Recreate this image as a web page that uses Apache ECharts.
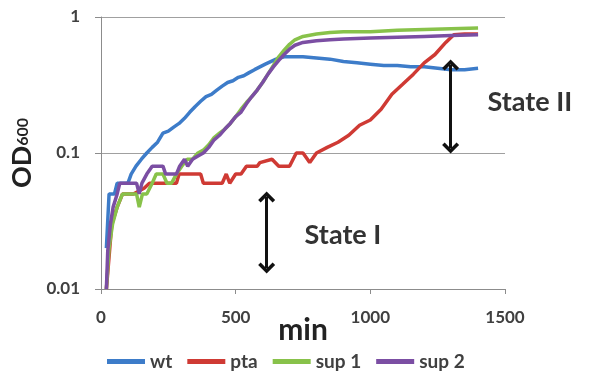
<!DOCTYPE html>
<html>
<head>
<meta charset="utf-8">
<script src="https://cdn.jsdelivr.net/npm/echarts@6/dist/echarts.min.js"></script>
<style>
  html, body { margin: 0; padding: 0; background: #fff; }
  #chart { width: 592px; height: 371px; }
</style>
</head>
<body>
<div id="chart"></div>
<script>
// growth curves, OD600 vs minutes
const wtMin = [20,30,50,60,100,112,130,150,170,190,210,230,250,270,290,310,330,350,370,390,410,430,450,470,490,510,530,550,570,590,610,630,650,680,700,750,800,850,900,950,1000,1050,1100,1150,1200,1250,1300,1350,1400];
const wtOD  = [0.02,0.05,0.05,0.06,0.06,0.07,0.08,0.09,0.1,0.11,0.12,0.14,0.145,0.155,0.165,0.18,0.2,0.22,0.24,0.26,0.27,0.29,0.31,0.33,0.34,0.36,0.37,0.39,0.41,0.43,0.45,0.47,0.49,0.51,0.51,0.51,0.5,0.49,0.47,0.46,0.45,0.44,0.44,0.43,0.43,0.42,0.41,0.41,0.42];

const ptaMin = [20,40,60,80,120,160,180,280,290,370,380,450,465,478,500,520,540,580,590,635,660,700,725,750,775,800,840,880,920,960,1000,1040,1080,1120,1160,1200,1240,1280,1310,1350,1400];
const ptaOD  = [0.01,0.03,0.04,0.05,0.05,0.055,0.06,0.06,0.07,0.07,0.06,0.06,0.07,0.06,0.07,0.07,0.08,0.08,0.085,0.09,0.08,0.08,0.1,0.1,0.085,0.1,0.11,0.12,0.135,0.16,0.175,0.21,0.27,0.32,0.38,0.46,0.53,0.65,0.74,0.75,0.75];

const sup1Min = [20,30,43,60,80,100,120,132,142,154,170,190,205,230,245,262,280,300,320,340,360,380,400,420,440,460,480,500,520,540,560,580,600,620,640,660,680,700,720,750,800,850,900,1000,1100,1200,1300,1400];
const sup1OD  = [0.01,0.02,0.03,0.04,0.05,0.05,0.05,0.05,0.04,0.05,0.05,0.06,0.07,0.07,0.06,0.06,0.07,0.08,0.09,0.09,0.1,0.105,0.115,0.13,0.14,0.15,0.165,0.185,0.21,0.235,0.26,0.29,0.33,0.38,0.44,0.51,0.57,0.63,0.68,0.72,0.75,0.77,0.78,0.78,0.8,0.81,0.82,0.83];

const sup2Min = [20,25,35,45,60,70,80,100,120,132,142,152,170,190,210,230,240,260,280,292,310,322,340,360,380,400,420,440,460,480,500,520,540,560,580,600,620,640,660,680,700,720,750,800,850,900,1000,1100,1200,1300,1400];
const sup2OD  = [0.01,0.019,0.03,0.04,0.05,0.06,0.06,0.06,0.06,0.06,0.05,0.06,0.07,0.08,0.08,0.08,0.07,0.07,0.07,0.08,0.09,0.08,0.09,0.095,0.1,0.11,0.125,0.135,0.15,0.165,0.185,0.2,0.23,0.26,0.29,0.33,0.38,0.43,0.48,0.53,0.58,0.62,0.65,0.67,0.68,0.69,0.7,0.71,0.72,0.73,0.74];

const seriesNames = ['wt', 'pta', 'sup 1', 'sup 2'];
const colors = ['#3d7cc9', '#cf3a34', '#88c24a', '#7b4ea3'];
const xTicks = [0, 500, 1000, 1500];
const yTicks = [0.01, 0.1, 1];

// double arrows: [minute, OD top, OD bottom]
const arrows = [[615, 0.0475, 0.01427], [1298, 0.4436, 0.1088]];
// state labels: [text, minute, OD]
const states = [['State I', 756, 0.0249], ['State II', 1435, 0.237]];

const FONT = 'Lato';
const TXT = '#404040';

const pair = (xs, ys) => xs.map((x, i) => [x, ys[i]]);
const chevron = 'path://M0,10 L10,0 L20,10 L17,13 L10,6 L3,13 Z';

const chart = echarts.init(document.getElementById('chart'), null, { renderer: 'canvas' });

const lineSeries = (name, data, idx) => ({
  name,
  type: 'line',
  data,
  showSymbol: false,
  symbol: 'none',
  color: colors[idx],
  lineStyle: { width: 3.5, color: colors[idx] },
  z: 2 + idx,
});

const series = [
  lineSeries('wt', pair(wtMin, wtOD), 0),
  lineSeries('pta', pair(ptaMin, ptaOD), 1),
  lineSeries('sup 1', pair(sup1Min, sup1OD), 2),
  lineSeries('sup 2', pair(sup2Min, sup2OD), 3),
];
series[3].markLine = {
  silent: true,
  symbol: [chevron, chevron],
  symbolSize: [17, 11],
  label: { show: false },
  lineStyle: { color: '#111', width: 3, type: 'solid' },
  data: arrows.map(a => [{ coord: [a[0], a[1]] }, { coord: [a[0], a[2]] }]),
};

chart.setOption({
  animation: false,
  textStyle: { fontFamily: FONT },
  grid: { left: 101, right: 87, top: 17, bottom: 82 },
  legend: {
    data: seriesNames,
    left: 102,
    top: 347,
    icon: 'rect',
    itemWidth: 38,
    itemHeight: 5,
    itemGap: 15,
    textStyle: { fontFamily: FONT, fontWeight: 700, fontSize: 19, color: TXT },
  },
  xAxis: {
    type: 'value',
    min: 0,
    max: 1500,
    interval: 500,
    name: 'min',
    nameLocation: 'middle',
    nameGap: 26,
    nameMoveOverlap: false,
    nameTextStyle: { fontFamily: FONT, fontWeight: 'bold', fontSize: 30, color: '#222' },
    axisLine: { show: true, lineStyle: { color: '#8c8c8c', width: 1 } },
    axisTick: { show: true, length: 5, lineStyle: { color: '#8c8c8c' } },
    splitLine: { show: false },
    axisLabel: {
      margin: 20,
      fontFamily: FONT, fontWeight: 'bold', fontSize: 17, color: TXT,
      formatter: v => (xTicks.includes(v) ? String(v) : ''),
    },
  },
  yAxis: {
    type: 'log',
    logBase: 10,
    min: 0.01,
    max: 1,
    name: '{a|OD}{b|600}',
    nameLocation: 'middle',
    nameRotate: 90,
    nameGap: 65,
    nameMoveOverlap: false,
    nameTextStyle: {
      rich: {
        a: { fontFamily: FONT, fontWeight: 'bold', fontSize: 27, color: '#222' },
        b: { fontFamily: FONT, fontWeight: 'bold', fontSize: 16, color: '#222' },
      },
    },
    axisLine: { show: true, lineStyle: { color: '#8c8c8c', width: 1 } },
    axisTick: { show: true, length: 6, lineStyle: { color: '#8c8c8c' } },
    splitLine: { show: true, lineStyle: { color: '#a0a0a0', width: 1 } },
    axisLabel: {
      margin: 21,
      fontFamily: FONT, fontWeight: 'bold', fontSize: 17, color: TXT,
      formatter: v => {
        const t = yTicks.find(y => Math.abs(y - v) < v * 1e-6);
        return t === undefined ? '' : String(t);
      },
    },
  },
  series,
});

// state text placed through the axes' scales
chart.setOption({
  graphic: states.map(s => {
    const [x, y] = chart.convertToPixel({ gridIndex: 0 }, [s[1], s[2]]);
    return {
      type: 'text',
      x, y,
      style: {
        text: s[0],
        fontFamily: FONT, fontWeight: 'bold', fontSize: 27, fill: '#333',
        textAlign: 'left', textVerticalAlign: 'middle',
      },
    };
  }),
});
</script>
</body>
</html>
